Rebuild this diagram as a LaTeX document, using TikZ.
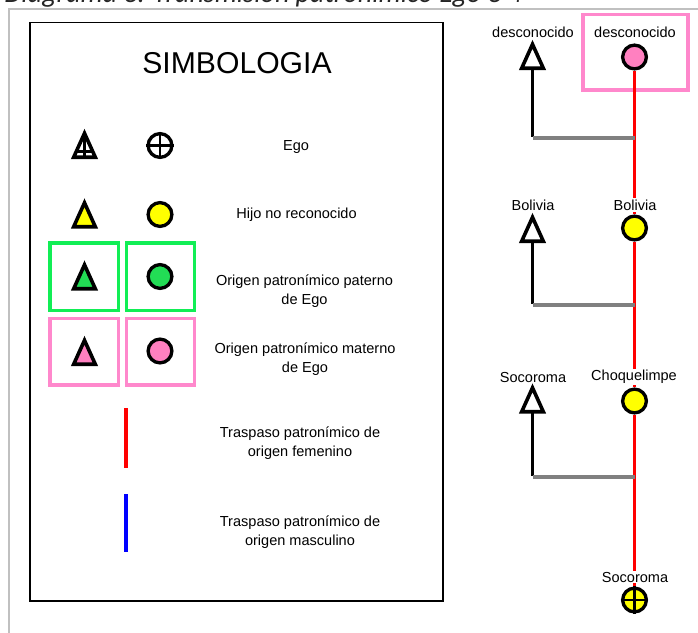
\documentclass[tikz,border=0pt]{standalone}
\usepackage{fontspec}
\setmainfont{Liberation Sans}
\newfontfamily\titlefont{Carlito}
\usetikzlibrary{calc}

\definecolor{framegray}{RGB}{192,192,192}
\definecolor{linkgray}{RGB}{128,128,128}
\definecolor{patgreen}{RGB}{17,238,85}
\definecolor{patgreenfill}{RGB}{34,221,85}
\definecolor{matpink}{RGB}{255,136,204}
\definecolor{matpinkfill}{RGB}{255,128,192}
\definecolor{ylw}{RGB}{255,255,0}

\tikzset{
  % male symbol: triangle centred on the pic origin
  pics/tri/.style={code={
    \draw[line width=2.7pt, fill=#1] (-10.8,13.2) -- (0,-10.7) -- (10.8,13.2) -- cycle;
  }},
  % Ego as a male: triangle with a cross inside
  pics/egotri/.style={code={
    \draw[line width=2.7pt, fill=white] (-10.8,13.2) -- (0,-10.7) -- (10.8,13.2) -- cycle;
    \draw[line width=2.2pt] (0,-10.7) -- (0,13.2) (-8.2,7.2) -- (8.2,7.2);
  }},
}

\begin{document}
\begin{tikzpicture}[x=0.75pt,y=-0.75pt,
  txt/.style={font=\fontsize{10.9pt}{14.2pt}\selectfont, align=center, inner sep=0pt},
  lbl/.style={font=\fontsize{10.9pt}{13pt}\selectfont, inner sep=1pt, fill=white},
  circ/.style={circle, draw=black, line width=2.5pt, minimum size=17.8pt, inner sep=0pt, fill=#1},
  greenbox/.style={draw=patgreen, line width=2.6pt},
  pinkbox/.style={draw=matpink, line width=2.6pt},
  femline/.style={red, line width=2.8pt},
  malline/.style={blue, line width=2.6pt},
  legfem/.style={red, line width=2.6pt},
  descent/.style={black, line width=2.6pt},
  sibling/.style={linkgray, line width=2.6pt},
]
\clip (0,0) rectangle (698,632);
\fill[white] (0,0) rectangle (698,632);

% heading, partly cut by the page edge
\node[anchor=base west, inner sep=0pt, text=black!85,
      font=\titlefont\itshape\fontsize{21pt}{23pt}\selectfont] (title) at (4,2.5)
  {Diagrama 3. Transmisión patronímico Ego 3 4};

% outer frame
\draw[framegray, line width=1.6pt] (9,9) rectangle (730,680);

% ---------------- legend ----------------
\draw[line width=1.2pt] (30,22.5) rectangle (443,601);
\node[font=\fontsize{22.6pt}{26pt}\selectfont] (simb) at (237,63) {SIMBOLOGIA};

% Ego
\pic at (84.5,144) {egotri};
\node[circ=white] (legego) at (160,145.5) {};
\draw[line width=2.2pt] (legego.north) -- (legego.south) (legego.west) -- (legego.east);
\node[txt] (tego) at (296,147) {Ego};

% unrecognised child
\pic at (84.5,213.5) {tri=ylw};
\node[circ=ylw] (legy) at (160,214.5) {};
\node[txt] (thijo) at (296.5,215) {Hijo no reconocido};

% paternal origin
\draw[greenbox] (50,243) rectangle (118.5,310.5);
\draw[greenbox] (126.5,243) rectangle (194.5,310.5);
\pic at (84.5,275.5) {tri=patgreenfill};
\node[circ=patgreenfill] (legg) at (160,276.5) {};
\node[txt] (tpat) at (304.5,291.5) {Origen patronímico paterno\\de Ego};

% maternal origin
\draw[pinkbox] (50,318.5) rectangle (118.5,385);
\draw[pinkbox] (126.5,318.5) rectangle (194.5,385);
\pic at (84.5,351) {tri=matpinkfill};
\node[circ=matpinkfill] (legp) at (160,351) {};
\node[txt] (tmat) at (305,359.5) {Origen patronímico materno\\de Ego};

% transfer lines
\coordinate (fa) at (126,408);
\coordinate (fb) at (126,468);
\draw[legfem] (fa) -- (fb);
\node[txt] (tfem) at (300,443.5) {Traspaso patronímico de\\origen femenino};
\coordinate (ma) at (126,494);
\coordinate (mb) at (126,552);
\draw[malline] (ma) -- (mb);
\node[txt] (tmas) at (300,532) {Traspaso patronímico de\\origen masculino};

% ---------------- descent line ----------------
\draw[pinkbox] (583,14.5) rectangle (688,90);

% women of the maternal line
\node[circ=matpinkfill] (w1) at (634.5,57) {};
\node[circ=ylw] (w2) at (634.5,228) {};
\node[circ=ylw] (w3) at (634.5,401) {};
\node[circ=ylw] (ego) at (634.5,600) {};

% points where the unrecognised fathers join the line
\coordinate (j1) at (634.5,138);
\coordinate (j2) at (634.5,305);
\coordinate (j3) at (634.5,477);

\draw[femline] (w1) -- (w2);
\draw[femline] (w2) -- (w3);
\draw[femline] (w3) -- (ego);

% fathers
\pic at (532.5,55) {tri=white};
\pic at (532.5,228) {tri=white};
\pic at (532.5,398.5) {tri=white};
\coordinate (m1) at (532.5,68.2);
\coordinate (m2) at (532.5,241.2);
\coordinate (m3) at (532.5,411.7);
\coordinate (k1) at (532.5,138);
\coordinate (k2) at (532.5,305);
\coordinate (k3) at (532.5,477);
\draw[descent] (m1) -- ([yshift=1pt]k1);
\draw[descent] (m2) -- ([yshift=1pt]k2);
\draw[descent] (m3) -- ([yshift=1pt]k3);
\draw[sibling] (k1) -- (j1);
\draw[sibling] (k2) -- (j2);
\draw[sibling] (k3) -- (j3);

% Ego's cross
\draw[line width=2.2pt] (ego.north) -- (ego.south) (ego.west) -- (ego.east);

% place names
\node[lbl] (n1a) at (533,32) {desconocido};
\node[lbl] (n1b) at (635,32) {desconocido};
\node[lbl] (n2a) at (533,205) {Bolivia};
\node[lbl] (n2b) at (635,205) {Bolivia};
\node[lbl] (n3a) at (533,377) {Socoroma};
\node[lbl] (n3b) at (634,377) {Choquelimpe};
\node[lbl] (n4) at (635,577) {Socoroma};
\end{tikzpicture}
\end{document}
